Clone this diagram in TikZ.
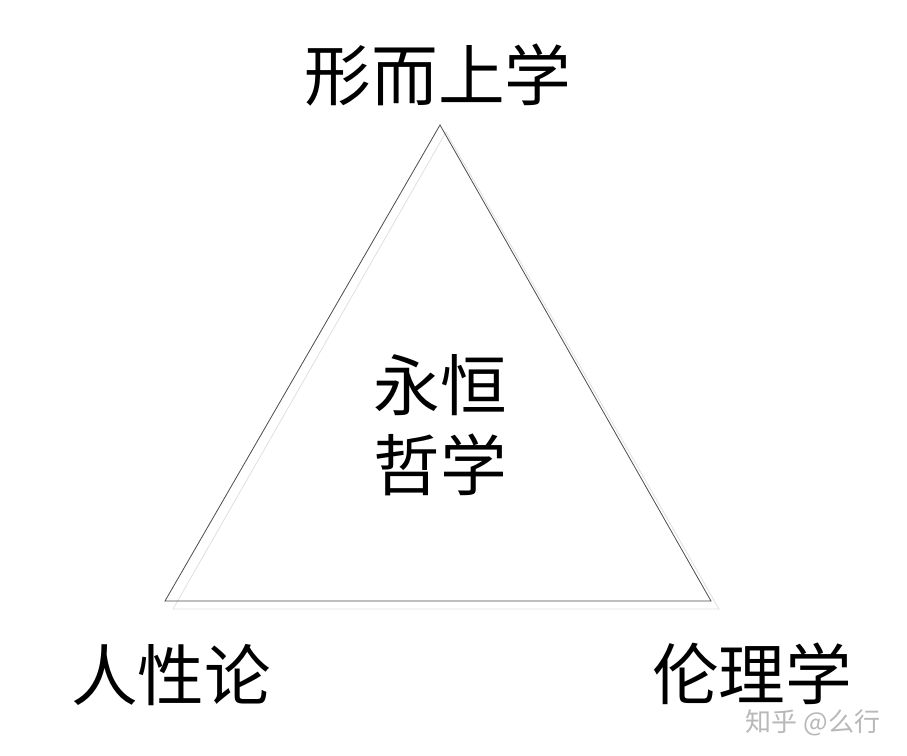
\documentclass[tikz,border=0pt]{standalone}
\usepackage{fontspec}
\newfontfamily\cjk{Noto Sans CJK SC}
\begin{document}
\begin{tikzpicture}[x=0.75pt,y=-0.75pt,
  lbl/.style={font=\cjk\fontsize{50}{60}\selectfont, inner sep=0pt, align=center, text=black},
  wm/.style={font=\cjk\fontsize{19.5}{22}\selectfont, inner sep=0pt, text=black!28},
  tri/.style={draw=black!70, line width=0.6pt, line join=miter},
  shadow/.style={draw=black!12, line width=0.6pt}]
\useasboundingbox (0,0) rectangle (907,756);
\fill[white] (0,0) rectangle (907,756);
\coordinate (sa) at (446,132);
\coordinate (sb) at (173,609);
\coordinate (sc) at (719,609);
\draw[shadow] (sa) -- (sb) -- (sc) -- cycle;
\coordinate (a) at (440,125);
\coordinate (b) at (165,601);
\coordinate (c) at (711,601);
\draw[tri] (a) -- (b) -- (c) -- cycle;
\node[lbl] (top) at (438,75) {形而上学};
\node[lbl] (mid) at (440,425) {永恒\\哲学};
\node[lbl] (left) at (171,675) {人性论};
\node[lbl] (right) at (752,674) {伦理学};
\node[wm] (mark) at (813,723) {知乎 @么行};
\end{tikzpicture}
\end{document}
